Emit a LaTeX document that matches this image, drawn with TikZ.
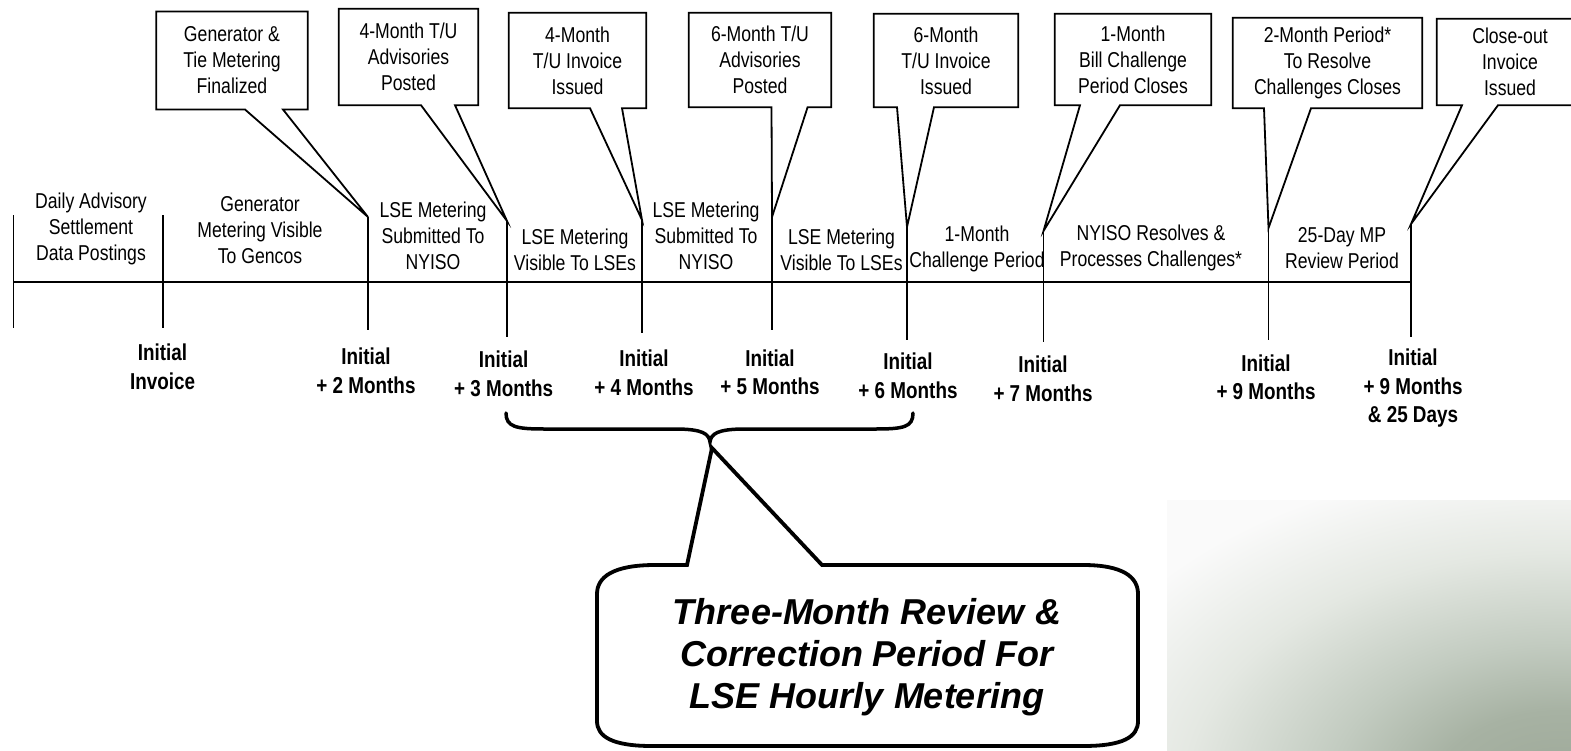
\documentclass[tikz,border=0pt]{standalone}
\usepackage{fontspec}
\setmainfont{Liberation Sans}
\newfontfamily\nar[FakeStretch=0.82]{Liberation Sans}
\usetikzlibrary{calc}
\definecolor{gbox}{HTML}{FAFAFA}
\definecolor{gd0}{HTML}{9DA898}
\definecolor{gd1}{HTML}{A7B2A3}
\definecolor{gd2}{HTML}{C2CBC0}
\definecolor{gd3}{HTML}{E4E8E2}
\pgfdeclareradialshading{bgrad}{\pgfpoint{0bp}{0bp}}{color(0bp)=(gd0); color(6bp)=(gd1); color(11bp)=(gd2); color(18bp)=(gd3); color(25bp)=(gbox); color(50bp)=(gbox)}
\begin{document}
\begin{tikzpicture}[x=1pt,y=-1pt,
  cline/.style={draw=black, line width=1.8pt, fill=white, line join=miter},
  boxtext/.style={inner sep=0pt, align=center, font={\nar\fontsize{21.5}{26}\selectfont}},
  period/.style={inner sep=0pt, align=center, font={\nar\fontsize{21.5}{26}\selectfont}},
  datelbl/.style={inner sep=0pt, align=center, font={\nar\bfseries\fontsize{23}{28.5}\selectfont}},
  tickline/.style={line width=1.8pt},
  bracestyle/.style={line width=3.5pt, line cap=round},
  bigline/.style={line width=3.8pt, fill=white, line join=miter},
  bigtext/.style={inner sep=0pt, align=center, font={\bfseries\itshape\fontsize{36}{42}\selectfont}}
]
\useasboundingbox (0,0) rectangle (1571,750);
% background gradient
\begin{scope}
  \clip (1167,500) rectangle (1571,750);
  \fill[gbox] (1167,500) rectangle (1571,750);
  \shade[shading=bgrad] (1560,790) ellipse [x radius=520pt, y radius=330pt];
\end{scope}
% ticks
\foreach \n/\x/\a/\b in {1/13.5/215/328, 2/163/215/328, 3/368/217/330, 4/507/221/337, 5/642/220/333,
   6/772/217/330, 7/907/227/340, 8/1043.5/231/342, 9/1268.5/228/340, 10/1411/224/337}{
  \coordinate (t\n) at (\x,\a);
  \coordinate (tb\n) at (\x,\b);
}
\coordinate (tlA) at (13.5,282);
\coordinate (tlB) at (1411,282);
% callout boxes (text nodes)
\node[boxtext, minimum width=151, minimum height=97.6] (b1) at (232,60.5) {Generator \&\\Tie Metering\\Finalized};
\node[boxtext, minimum width=139, minimum height=96] (b2) at (408.5,57) {4-Month T/U\\Advisories\\Posted};
\node[boxtext, minimum width=137, minimum height=95] (b3) at (577.5,60.5) {4-Month\\T/U Invoice\\Issued};
\node[boxtext, minimum width=142, minimum height=94] (b4) at (760,60) {6-Month T/U\\Advisories\\Posted};
\node[boxtext, minimum width=144, minimum height=93] (b5) at (946,60.5) {6-Month\\T/U Invoice\\Issued};
\node[boxtext, minimum width=156, minimum height=91] (b6) at (1133,59.5) {1-Month\\Bill Challenge\\Period Closes};
\node[boxtext, minimum width=189, minimum height=90] (b7) at (1327.5,63) {2-Month Period*\\To Resolve\\Challenges Closes};
\node[boxtext, minimum width=146, minimum height=86] (b8) at (1510,62) {Close-out\\Invoice\\Issued};
% callout outlines with pointers to the tick tops
\foreach \b/\l/\r/\t in {b1/245/283/t3, b2/421/455/t4, b3/590/622/t5, b4/771.5/807.6/t6,
   b5/897/934/t7, b6/1080/1120/t8, b7/1264/1311/t9, b8/1462/1498/t10}{
  \draw[cline] (\l,0 |- \b.south) -- (\b.south west) -- (\b.north west) -- (\b.north east)
     -- (\b.south east) -- (\r,0 |- \b.south) -- (\t) -- cycle;
}
% redraw box texts on top of the white fill
\node[boxtext] at (b1) {Generator \&\\Tie Metering\\Finalized};
\node[boxtext] at (b2) {4-Month T/U\\Advisories\\Posted};
\node[boxtext] at (b3) {4-Month\\T/U Invoice\\Issued};
\node[boxtext] at (b4) {6-Month T/U\\Advisories\\Posted};
\node[boxtext] at (b5) {6-Month\\T/U Invoice\\Issued};
\node[boxtext] at (b6) {1-Month\\Bill Challenge\\Period Closes};
\node[boxtext] at (b7) {2-Month Period*\\To Resolve\\Challenges Closes};
\node[boxtext] at (b8) {Close-out\\Invoice\\Issued};
% timeline
\draw[tickline] (tlA) -- (tlB);
\foreach \n in {1,...,10}{ \draw[tickline] (t\n) -- (tb\n); }
% period labels
\node[period] (p1) at (91,229) {Daily Advisory\\Settlement\\Data Postings};
\node[period] (p2) at (260,230) {Generator\\Metering Visible\\To Gencos};
\node[period] (p3) at (433,236) {LSE Metering\\Submitted To\\NYISO};
\node[period] (p4) at (575,249.5) {LSE Metering\\Visible To LSEs};
\node[period] (p5) at (706,236) {LSE Metering\\Submitted To\\NYISO};
\node[period] (p6) at (841.5,249.5) {LSE Metering\\Visible To LSEs};
\node[period] (p7) at (977,249) {1-Month\\Challenge Period};
\node[period] (p8) at (1151,248) {NYISO Resolves \&\\Processes Challenges*};
\node[period] (p9) at (1342,248) {25-Day MP\\Review Period};
% date labels
\node[datelbl] (d1) at (162.5,367) {Initial\\Invoice};
\node[datelbl] (d2) at (366,371) {Initial\\+ 2 Months};
\node[datelbl] (d3) at (503.6,374) {Initial\\+ 3 Months};
\node[datelbl] (d4) at (644,373) {Initial\\+ 4 Months};
\node[datelbl] (d5) at (770,372.5) {Initial\\+ 5 Months};
\node[datelbl] (d6) at (908,376) {Initial\\+ 6 Months};
\node[datelbl] (d7) at (1043,379) {Initial\\+ 7 Months};
\node[datelbl] (d9) at (1266,377.5) {Initial\\+ 9 Months};
\node[datelbl] (d10) at (1413,388.5) {Initial\\+ 9 Months\\\& 25 Days};
% brace
\coordinate (brtip) at (710,442);
\draw[bracestyle] (506,413) .. controls (506,427) and (516,429) .. (545,429) -- (675,429)
   .. controls (703,429) and (709,434) .. (brtip)
   .. controls (711,434) and (717,429) .. (745,429) -- (875,429)
   .. controls (904,429) and (913,427) .. (913,413);
% big callout
\coordinate (cptip) at (712,448);
\draw[bigline] (687,565) -- (655,565) .. controls (613,565) and (597,577) .. (597,594) -- (597,721)
   .. controls (597,737) and (613,746) .. (652,746) -- (1083,746)
   .. controls (1123,746) and (1138,737) .. (1138,721) -- (1138,594)
   .. controls (1138,577) and (1123,565) .. (1083,565) -- (822,565) -- (cptip) -- cycle;
\node[bigtext] (bc) at (867,657) {Three-Month Review \&\\Correction Period For\\LSE Hourly Metering};
\end{tikzpicture}
\end{document}
